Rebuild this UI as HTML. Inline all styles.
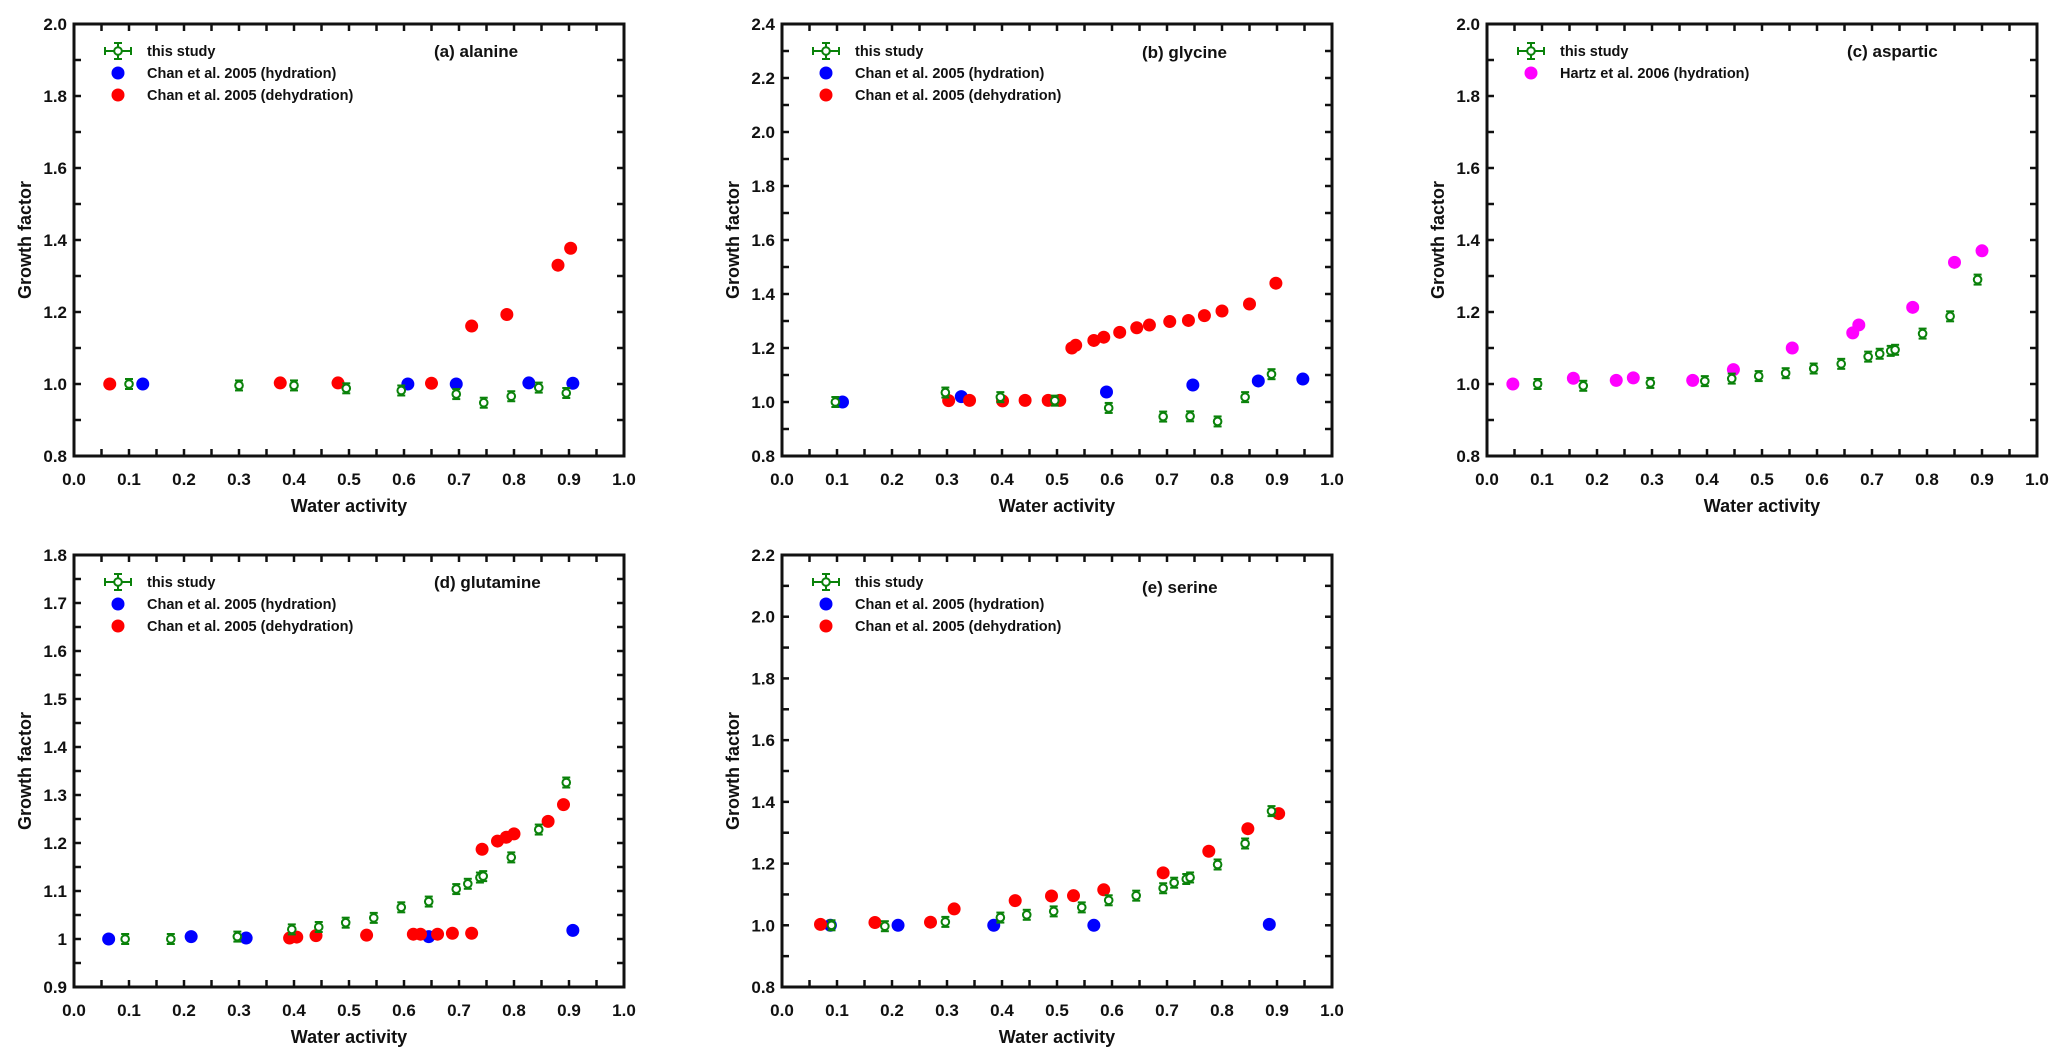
<!DOCTYPE html>
<html><head><meta charset="utf-8"><style>
html,body{margin:0;padding:0;background:#fff;}
svg{display:block;font-family:"Liberation Sans",Arial,sans-serif;font-weight:bold;}
</style></head><body>
<svg id="fig" width="2067" height="1063" viewBox="0 0 2067 1063" xmlns="http://www.w3.org/2000/svg"></svg>
<script>
// ---- data (a) alanine
const aStudyX=[0.10,0.30,0.40,0.495,0.595,0.695,0.745,0.795,0.845,0.895];
const aStudyY=[1.0,0.996,0.996,0.988,0.982,0.972,0.948,0.966,0.99,0.975];
const aHydX=[0.125,0.607,0.695,0.827,0.907];
const aHydY=[1.0,1.0,1.0,1.003,1.002];
const aDehX=[0.065,0.375,0.48,0.65,0.723,0.787,0.88,0.903];
const aDehY=[1.0,1.003,1.003,1.002,1.161,1.193,1.33,1.377];
// ---- (b) glycine
const bStudyX=[0.097,0.297,0.397,0.496,0.594,0.693,0.742,0.792,0.842,0.89];
const bStudyY=[1.0,1.035,1.018,1.005,0.978,0.946,0.947,0.928,1.018,1.103];
const bHydX=[0.11,0.326,0.59,0.747,0.866,0.947];
const bHydY=[1.0,1.02,1.037,1.063,1.078,1.085];
const bDehX=[0.303,0.341,0.401,0.442,0.484,0.505,0.527,0.534,0.567,0.585,0.614,0.645,0.668,0.705,0.739,0.768,0.8,0.85,0.898];
const bDehY=[1.005,1.006,1.004,1.006,1.006,1.006,1.2,1.21,1.228,1.24,1.258,1.275,1.285,1.298,1.302,1.32,1.337,1.363,1.44];
// ---- (c) aspartic
const cStudyX=[0.092,0.175,0.297,0.396,0.445,0.494,0.543,0.594,0.644,0.693,0.714,0.734,0.742,0.792,0.842,0.892];
const cStudyY=[1.0,0.995,1.003,1.008,1.015,1.022,1.03,1.043,1.056,1.076,1.084,1.092,1.095,1.14,1.188,1.29];
const cHartzX=[0.047,0.157,0.235,0.266,0.374,0.448,0.555,0.665,0.676,0.774,0.85,0.9];
const cHartzY=[1.0,1.016,1.01,1.017,1.01,1.04,1.1,1.142,1.164,1.213,1.338,1.37];
// ---- (d) glutamine
const dStudyX=[0.093,0.176,0.297,0.396,0.445,0.494,0.545,0.595,0.645,0.695,0.716,0.738,0.744,0.795,0.845,0.895];
const dStudyY=[1.0,1.0,1.005,1.02,1.025,1.034,1.044,1.066,1.078,1.104,1.115,1.128,1.131,1.17,1.228,1.326];
const dHydX=[0.063,0.213,0.313,0.645,0.907];
const dHydY=[1.0,1.005,1.002,1.005,1.018];
const dDehX=[0.392,0.405,0.44,0.532,0.617,0.630,0.661,0.688,0.723,0.742,0.77,0.786,0.8,0.862,0.89];
const dDehY=[1.002,1.004,1.007,1.008,1.01,1.01,1.01,1.012,1.012,1.187,1.204,1.212,1.219,1.245,1.28];
// ---- (e) serine
const eStudyX=[0.09,0.187,0.297,0.397,0.445,0.494,0.545,0.594,0.644,0.693,0.713,0.735,0.742,0.792,0.842,0.89];
const eStudyY=[1.0,0.997,1.011,1.025,1.034,1.045,1.058,1.081,1.096,1.12,1.138,1.15,1.155,1.197,1.265,1.37];
const eHydX=[0.088,0.211,0.385,0.567,0.886];
const eHydY=[1.0,1.0,1.0,1.0,1.003];
const eDehX=[0.07,0.169,0.27,0.313,0.424,0.49,0.53,0.585,0.693,0.776,0.847,0.903];
const eDehY=[1.003,1.009,1.01,1.053,1.08,1.095,1.096,1.115,1.17,1.24,1.313,1.362];
// tick labels
const xTickLabels=["0.0","0.1","0.2","0.3","0.4","0.5","0.6","0.7","0.8","0.9","1.0"];
const aYTicks=["0.8","1.0","1.2","1.4","1.6","1.8","2.0"];
const bYTicks=["0.8","1.0","1.2","1.4","1.6","1.8","2.0","2.2","2.4"];
const dYTicks=["0.9","1","1.1","1.2","1.3","1.4","1.5","1.6","1.7","1.8"];
const eYTicks=["0.8","1.0","1.2","1.4","1.6","1.8","2.0","2.2"];

const NS="http://www.w3.org/2000/svg";
const svg=document.getElementById('fig');
function mk(tag,attrs,parent,text){const e=document.createElementNS(NS,tag);for(const k in attrs)e.setAttribute(k,attrs[k]);if(text!==undefined)e.textContent=text;(parent||svg).appendChild(e);return e;}
const GREEN="#0a820a";

function panel(cfg){
  const g=mk('g',{});
  
  
  const L=cfg.left,T=cfg.top,W=550,H=432;
  const ymin=parseFloat(cfg.yTicks[0]),ymax=parseFloat(cfg.yTicks[cfg.yTicks.length-1]);
  const sx=v=>L+v*W, sy=v=>T+H-(v-ymin)/(ymax-ymin)*H;
  // ticks
  const tk=mk('g',{stroke:'#111','stroke-width':2.5},g);
  
  
  for(let i=0;i<=20;i++){const x=sx(i*0.05);
    mk('line',{x1:x,y1:T+H,x2:x,y2:T+H-7},tk);mk('line',{x1:x,y1:T,x2:x,y2:T+7},tk);}
  const nY=(cfg.yTicks.length-1)*2;
  for(let i=0;i<=nY;i++){const y=T+H-i*H/nY;
    mk('line',{x1:L,y1:y,x2:L+7,y2:y},tk);mk('line',{x1:L+W,y1:y,x2:L+W-7,y2:y},tk);}
  const frame=mk('rect',{x:L,y:T,width:W,height:H,fill:'none',stroke:'#111','stroke-width':3},g);
  
  
  xTickLabels.forEach((t,i)=>{const e=mk('text',{x:sx(i/10),y:T+H+29,'text-anchor':'middle','font-size':17,fill:'#111'},g,t);
    
    });
  cfg.yTicks.forEach(t=>{const e=mk('text',{x:L-7,y:sy(parseFloat(t))+6,'text-anchor':'end','font-size':17,fill:'#111'},g,t);
    
    });
  const xt=mk('text',{x:L+W/2,y:T+H+56,'text-anchor':'middle','font-size':18,fill:'#111'},g,'Water activity');
  
  
  const yt=mk('text',{x:0,y:0,'text-anchor':'middle','font-size':18,fill:'#111',transform:`translate(${L-43},${T+H/2}) rotate(-90)`},g,'Growth factor');
  
  
  const pl=mk('text',{x:L+360,y:T+cfg.labelDy,'font-size':17,fill:'#111'},g,cfg.label);
  
  
  // series
  cfg.dots.forEach(s=>{const sg=mk('g',{fill:s.color},g);
    
    
    s.x.forEach((xv,i)=>{const c=mk('circle',{cx:sx(xv),cy:sy(s.y[i]),r:6.5},sg);
      
      });});
  const st=mk('g',{stroke:GREEN,'stroke-width':2,fill:'none'},g);
  
  
  cfg.sx_.forEach((xv,i)=>{const x=sx(xv),y=sy(cfg.sy_[i]);const eb=Math.max(5,Math.abs(sy(cfg.sy_[i]+0.01)-y));
    const p=mk('g',{},st);
    
    
    mk('line',{x1:x,y1:y-eb,x2:x,y2:y+eb},p);mk('line',{x1:x-4,y1:y-eb,x2:x+4,y2:y-eb},p);mk('line',{x1:x-4,y1:y+eb,x2:x+4,y2:y+eb},p);
    mk('circle',{cx:x,cy:y,r:3.8,fill:'#fff'},p);});
  // legend
  const lg=mk('g',{},g);
  
  
  const mx=L+44,ty=T+27;
  const e0=mk('g',{stroke:GREEN,'stroke-width':2,fill:'none'},lg);
  
  
  mk('line',{x1:mx-13,y1:ty,x2:mx+13,y2:ty},e0);mk('line',{x1:mx,y1:ty-8,x2:mx,y2:ty+8},e0);
  mk('line',{x1:mx-13,y1:ty-4,x2:mx-13,y2:ty+4},e0);mk('line',{x1:mx+13,y1:ty-4,x2:mx+13,y2:ty+4},e0);
  mk('line',{x1:mx-4,y1:ty-8,x2:mx+4,y2:ty-8},e0);mk('line',{x1:mx-4,y1:ty+8,x2:mx+4,y2:ty+8},e0);
  mk('circle',{cx:mx,cy:ty,r:3.8,fill:'#fff'},e0);
  mk('text',{x:L+73,y:ty+5,'font-size':14.5,fill:'#111',stroke:'none'},lg,'this study');
  cfg.dots.forEach((s,i)=>{const y=ty+22*(i+1);
    const c=mk('circle',{cx:mx,cy:y,r:6.5,fill:s.color},lg);
    
    
    const t=mk('text',{x:L+73,y:y+5,'font-size':14.5,fill:'#111'},lg,s.label);
    
    });
}
const HYD="Chan et al. 2005 (hydration)",DEH="Chan et al. 2005 (dehydration)";
panel({name:'panel-a-alanine',left:74,top:24,yTicks:aYTicks,label:'(a) alanine',labelDy:33,sx_:aStudyX,sy_:aStudyY,
  dots:[{name:'hydration-series',color:'#0000ff',x:aHydX,y:aHydY,label:HYD},{name:'dehydration-series',color:'#ff0000',x:aDehX,y:aDehY,label:DEH}]});
panel({name:'panel-b-glycine',left:782,top:24,yTicks:bYTicks,label:'(b) glycine',labelDy:34,sx_:bStudyX,sy_:bStudyY,
  dots:[{name:'hydration-series',color:'#0000ff',x:bHydX,y:bHydY,label:HYD},{name:'dehydration-series',color:'#ff0000',x:bDehX,y:bDehY,label:DEH}]});
panel({name:'panel-c-aspartic',left:1487,top:24,yTicks:aYTicks,label:'(c) aspartic',labelDy:33,sx_:cStudyX,sy_:cStudyY,
  dots:[{name:'hartz-series',color:'#ff00ff',x:cHartzX,y:cHartzY,label:'Hartz et al. 2006 (hydration)'}]});
panel({name:'panel-d-glutamine',left:74,top:555,yTicks:dYTicks,label:'(d) glutamine',labelDy:33,sx_:dStudyX,sy_:dStudyY,
  dots:[{name:'hydration-series',color:'#0000ff',x:dHydX,y:dHydY,label:HYD},{name:'dehydration-series',color:'#ff0000',x:dDehX,y:dDehY,label:DEH}]});
panel({name:'panel-e-serine',left:782,top:555,yTicks:eYTicks,label:'(e) serine',labelDy:38,sx_:eStudyX,sy_:eStudyY,
  dots:[{name:'hydration-series',color:'#0000ff',x:eHydX,y:eHydY,label:HYD},{name:'dehydration-series',color:'#ff0000',x:eDehX,y:eDehY,label:DEH}]});
</script>
</body></html>
